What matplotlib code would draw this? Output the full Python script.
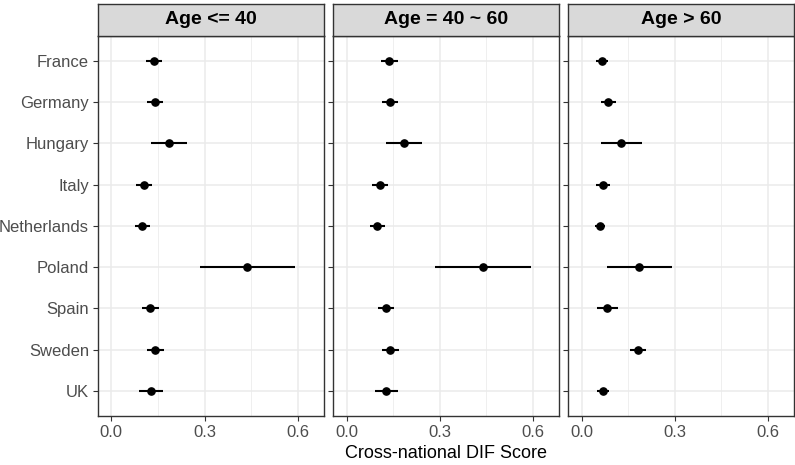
import matplotlib.pyplot as plt
from matplotlib.ticker import FixedLocator

plt.rcParams['font.family'] = ['Liberation Sans', 'DejaVu Sans']

countries = ['France', 'Germany', 'Hungary', 'Italy', 'Netherlands',
             'Poland', 'Spain', 'Sweden', 'UK']
panels = ['Age <= 40', 'Age = 40 ~ 60', 'Age > 60']

# point estimates and interval ends, one list per age group
est_young = [0.138, 0.141, 0.186, 0.106, 0.099, 0.437, 0.126, 0.141, 0.127]
lo_young = [0.111, 0.115, 0.127, 0.080, 0.077, 0.285, 0.100, 0.115, 0.090]
hi_young = [0.163, 0.165, 0.243, 0.132, 0.123, 0.590, 0.152, 0.168, 0.165]

est_mid = [0.137, 0.140, 0.186, 0.106, 0.098, 0.438, 0.126, 0.141, 0.128]
lo_mid = [0.109, 0.115, 0.127, 0.080, 0.075, 0.284, 0.100, 0.115, 0.090]
hi_mid = [0.164, 0.165, 0.244, 0.133, 0.123, 0.593, 0.152, 0.168, 0.166]

est_old = [0.064, 0.085, 0.128, 0.069, 0.058, 0.186, 0.083, 0.182, 0.068]
lo_old = [0.046, 0.061, 0.062, 0.046, 0.042, 0.081, 0.048, 0.155, 0.048]
hi_old = [0.085, 0.109, 0.193, 0.090, 0.075, 0.292, 0.118, 0.207, 0.089]

data = [(est_young, lo_young, hi_young),
        (est_mid, lo_mid, hi_mid),
        (est_old, lo_old, hi_old)]

W, H = 795, 465
fig = plt.figure(figsize=(W / 100, H / 100), dpi=100)

lefts = [98, 333.3, 568.3]
pw = 225.5
top, bottom = 36, 415.7
strip_top = 4

ypos = list(range(len(countries), 0, -1))

for k, left in enumerate(lefts):
    ax = fig.add_axes([left / W, (H - bottom) / H, pw / W, (bottom - top) / H])
    est, lo, hi = data[k]
    ax.hlines(ypos, lo, hi, color='black', linewidth=1.5, zorder=3)
    ax.plot(est, ypos, 'o', color='black', markersize=5.2, zorder=4)
    ax.set_xlim(-0.043, 0.683)
    ax.set_ylim(0.4, len(countries) + 0.6)
    ax.xaxis.set_major_locator(FixedLocator([0.0, 0.3, 0.6]))
    ax.xaxis.set_minor_locator(FixedLocator([0.15, 0.45]))
    ax.set_xticklabels(['0.0', '0.3', '0.6'])
    ax.set_yticks(ypos)
    ax.grid(True, which='major', color='#EBEBEB', linewidth=1.1, zorder=0)
    ax.grid(True, which='minor', axis='x', color='#EBEBEB', linewidth=0.55, zorder=0)
    ax.set_axisbelow(True)
    ax.tick_params(which='major', length=3.5, width=0.8, color='#333333',
                   labelcolor='#4D4D4D', labelsize=12, pad=3)
    ax.tick_params(which='minor', length=0)
    if k == 0:
        ax.set_yticklabels(countries)
    else:
        ax.set_yticklabels([])
    for sp in ax.spines.values():
        sp.set_color('#333333')
        sp.set_linewidth(1.0)

    sax = fig.add_axes([left / W, (H - top) / H, pw / W, (top - strip_top) / H])
    sax.set_facecolor('#D9D9D9')
    sax.set_xticks([])
    sax.set_yticks([])
    for sp in sax.spines.values():
        sp.set_color('#333333')
        sp.set_linewidth(1.0)
    sax.text(0.5, 0.5, panels[k], ha='center', va='center', fontsize=14,
             fontweight='bold', color='black', transform=sax.transAxes)

fig.text((lefts[0] + lefts[-1] + pw) / 2 / W, 1 - 453 / H, 'Cross-national DIF Score',
         ha='center', va='center', fontsize=13, color='black')

fig.savefig('out.png', dpi=100)
